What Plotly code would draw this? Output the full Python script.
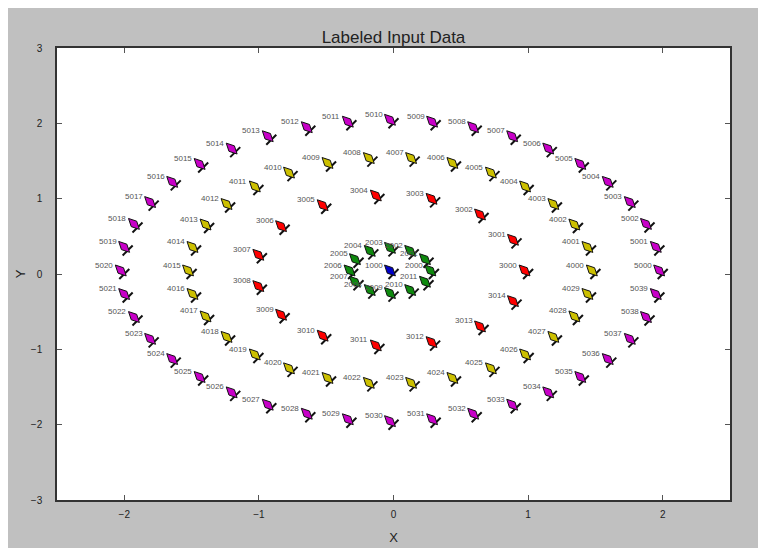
import plotly.graph_objs as go

# ring 1 (centre)
r1_x = [0.0]
r1_y = [0.0]
r1_lab = ["1000"]

# ring 2 (green)
r2_x = [0.30, 0.26, 0.15, 0.0, -0.15, -0.26, -0.30, -0.26, -0.15, 0.0, 0.15, 0.26]
r2_y = [0.0, 0.15, 0.26, 0.30, 0.26, 0.15, 0.0, -0.15, -0.26, -0.30, -0.26, -0.15]
r2_lab = ["2000", "2001", "2002", "2003", "2004", "2005",
          "2006", "2007", "2008", "2009", "2010", "2011"]

# ring 3 (red)
r3_x = [1.0, 0.914, 0.669, 0.309, -0.105, -0.5, -0.809, -0.978,
        -0.978, -0.809, -0.5, -0.105, 0.309, 0.669, 0.914]
r3_y = [0.0, 0.407, 0.743, 0.951, 0.995, 0.866, 0.588, 0.208,
        -0.208, -0.588, -0.866, -0.995, -0.951, -0.743, -0.407]
r3_lab = ["3000", "3001", "3002", "3003", "3004", "3005", "3006", "3007",
          "3008", "3009", "3010", "3011", "3012", "3013", "3014"]

# ring 4 (yellow)
r4_x = [1.5, 1.467, 1.370, 1.214, 1.004, 0.75, 0.464, 0.157, -0.157, -0.464,
        -0.75, -1.004, -1.214, -1.370, -1.467, -1.5, -1.467, -1.370, -1.214, -1.004,
        -0.75, -0.464, -0.157, 0.157, 0.464, 0.75, 1.004, 1.214, 1.370, 1.467]
r4_y = [0.0, 0.312, 0.610, 0.882, 1.115, 1.299, 1.427, 1.492, 1.492, 1.427,
        1.299, 1.115, 0.882, 0.610, 0.312, 0.0, -0.312, -0.610, -0.882, -1.115,
        -1.299, -1.427, -1.492, -1.492, -1.427, -1.299, -1.115, -0.882, -0.610, -0.312]
r4_lab = ["4000", "4001", "4002", "4003", "4004", "4005", "4006", "4007", "4008", "4009",
          "4010", "4011", "4012", "4013", "4014", "4015", "4016", "4017", "4018", "4019",
          "4020", "4021", "4022", "4023", "4024", "4025", "4026", "4027", "4028", "4029"]

# ring 5 (magenta)
r5_x = [2.0, 1.975, 1.902, 1.782, 1.618, 1.414, 1.176, 0.908, 0.618, 0.313,
        0.0, -0.313, -0.618, -0.908, -1.176, -1.414, -1.618, -1.782, -1.902, -1.975,
        -2.0, -1.975, -1.902, -1.782, -1.618, -1.414, -1.176, -0.908, -0.618, -0.313,
        0.0, 0.313, 0.618, 0.908, 1.176, 1.414, 1.618, 1.782, 1.902, 1.975]
r5_y = [0.0, 0.313, 0.618, 0.908, 1.176, 1.414, 1.618, 1.782, 1.902, 1.975,
        2.0, 1.975, 1.902, 1.782, 1.618, 1.414, 1.176, 0.908, 0.618, 0.313,
        0.0, -0.313, -0.618, -0.908, -1.176, -1.414, -1.618, -1.782, -1.902, -1.975,
        -2.0, -1.975, -1.902, -1.782, -1.618, -1.414, -1.176, -0.908, -0.618, -0.313]
r5_lab = ["5000", "5001", "5002", "5003", "5004", "5005", "5006", "5007", "5008", "5009",
          "5010", "5011", "5012", "5013", "5014", "5015", "5016", "5017", "5018", "5019",
          "5020", "5021", "5022", "5023", "5024", "5025", "5026", "5027", "5028", "5029",
          "5030", "5031", "5032", "5033", "5034", "5035", "5036", "5037", "5038", "5039"]

rings = [
    (r1_x, r1_y, r1_lab, "#0000c8"),
    (r2_x, r2_y, r2_lab, "#0e8a0e"),
    (r3_x, r3_y, r3_lab, "#ff0000"),
    (r4_x, r4_y, r4_lab, "#ccc000"),
    (r5_x, r5_y, r5_lab, "#c800c8"),
]

fig = go.Figure()

for xs, ys, labs, col in rings:
    # pin head (black bar) at the data point
    fig.add_trace(go.Scatter(
        x=xs, y=ys, mode="markers",
        marker=dict(symbol="line-ne", size=10, line=dict(color="#111111", width=2)),
        hoverinfo="skip", showlegend=False
    ))
    # pin body, pushed up-left of the point
    fig.add_trace(go.Scatter(
        x=xs, y=ys, mode="markers",
        marker=dict(symbol="diamond-tall", size=11, color=col, angle=135, standoff=5,
                    line=dict(color="#111111", width=1)),
        showlegend=False
    ))
    # labels, up-left of each pin
    for x, y, t in zip(xs, ys, labs):
        fig.add_annotation(x=x, y=y, text=t, showarrow=False,
                           xanchor="right", yanchor="middle", xshift=-9, yshift=9,
                           font=dict(family="Liberation Sans", size=8, color="#555555"))

axis_style = dict(
    showgrid=False, zeroline=False, automargin=False,
    showline=True, linecolor="#333333", linewidth=1.5, mirror="ticks",
    ticks="inside", ticklen=5, tickcolor="#555555",
    tickfont=dict(family="Liberation Sans", size=10, color="#222222"),
)

fig.update_xaxes(range=[-2.5, 2.5], tickvals=[-2, -1, 0, 1, 2], ticklabelstandoff=4,
                 title=dict(text="X", standoff=14,
                            font=dict(family="Liberation Sans", size=13, color="#222222")),
                 **axis_style)
fig.update_yaxes(range=[-3, 3], tickvals=[-3, -2, -1, 0, 1, 2, 3], ticklabelstandoff=11,
                 title=dict(text="Y", standoff=2,
                            font=dict(family="Liberation Sans", size=13, color="#222222")),
                 **axis_style)

# page body adds an 8px offset, so the figure is sized to end at the window edge
fig.update_layout(
    title=dict(text="Labeled Input Data", x=0.5, xref="paper",
               y=1 - 29 / 540, yref="container", yanchor="middle",
               font=dict(family="Liberation Sans", size=17, color="#222222")),
    width=750, height=540,
    margin=dict(l=49, r=28, t=40, b=48),
    paper_bgcolor="#c0c0c0",
    plot_bgcolor="white",
)

fig.write_html("out.html")
